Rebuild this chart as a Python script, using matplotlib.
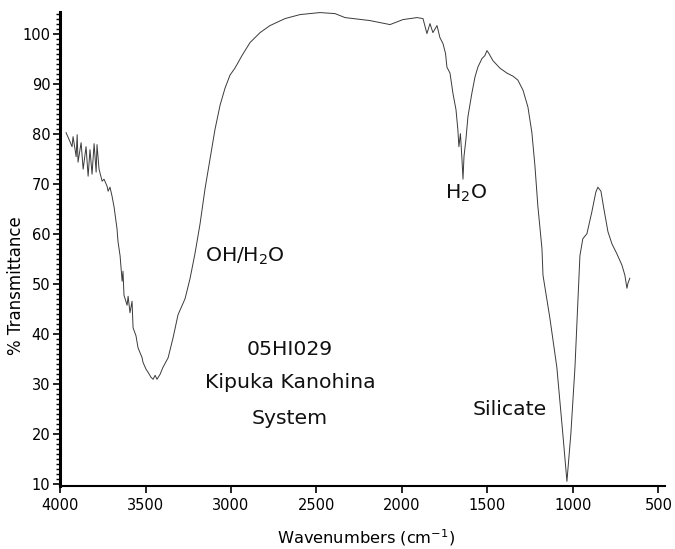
import numpy as np
import matplotlib.pyplot as plt
from matplotlib.ticker import MultipleLocator

# spectrum (wavenumber, % transmittance)
wavenumber = [3965, 3942, 3930, 3924, 3906, 3900, 3895, 3877, 3865, 3848,
              3836, 3825, 3813, 3801, 3789, 3784, 3772, 3754, 3743, 3725,
              3719, 3708, 3696, 3684, 3667, 3661, 3649, 3637, 3632, 3626,
              3608, 3602, 3591, 3579, 3573, 3556, 3544, 3532, 3520, 3515,
              3497, 3485, 3468, 3456, 3444, 3433, 3415, 3398, 3368, 3339,
              3310, 3269, 3240, 3211, 3181, 3152, 3123, 3094, 3064, 3035,
              3006, 2977, 2936, 2889, 2830, 2772, 2684, 2596, 2480, 2392,
              2363, 2333, 2187, 2070, 1994, 1912, 1877, 1854, 1836, 1819,
              1795, 1778, 1760, 1745, 1737, 1719, 1702, 1684, 1673, 1667,
              1658, 1649, 1643, 1637, 1626, 1614, 1591, 1573, 1556, 1532,
              1515, 1503, 1491, 1468, 1427, 1386, 1351, 1322, 1292, 1263,
              1240, 1222, 1205, 1181, 1175, 1135, 1094, 1059, 1035, 1012,
              988, 971, 959, 942, 918, 889, 866, 854, 836, 819,
              795, 772, 743, 713, 696, 684, 678, 667]
transmittance = [80.2, 78.4, 77.4, 79.4, 75.4, 79.8, 74.3, 78.2, 72.9, 77.4,
                 71.5, 76.8, 71.9, 78.0, 72.3, 77.8, 72.9, 70.5, 70.9, 69.5,
                 68.5, 69.3, 67.5, 65.3, 61.0, 58.4, 55.6, 50.5, 52.5, 47.7,
                 45.7, 47.5, 44.2, 46.5, 41.2, 39.6, 37.2, 36.2, 35.2, 34.3,
                 32.9, 32.3, 31.3, 30.9, 31.7, 30.9, 31.9, 33.3, 35.2, 39.2,
                 43.8, 47.0, 51.0, 56.0, 62.0, 69.0, 74.9, 80.8, 85.7, 89.1,
                 91.7, 93.1, 95.6, 98.2, 100.2, 101.6, 103.0, 103.8, 104.2, 104.0,
                 103.6, 103.2, 102.6, 101.8, 102.8, 103.2, 103.0, 100.0, 102.0, 100.2,
                 101.6, 99.2, 98.0, 96.0, 93.3, 92.1, 88.1, 84.8, 80.8, 77.4,
                 80.0, 74.9, 70.9, 75.5, 78.8, 83.4, 88.1, 91.3, 93.3, 95.0,
                 95.6, 96.6, 96.0, 94.6, 93.1, 92.1, 91.5, 90.7, 88.7, 85.3,
                 80.2, 73.5, 65.5, 57.0, 51.7, 43.2, 33.3, 20.0, 10.5, 20.0,
                 33.3, 46.5, 55.6, 59.0, 60.0, 64.4, 68.3, 69.3, 68.5, 65.0,
                 60.4, 58.0, 56.0, 53.7, 51.7, 49.1, 50.1, 51.1]

x_ticks = [4000, 3500, 3000, 2500, 2000, 1500, 1000, 500]
y_ticks = [10, 20, 30, 40, 50, 60, 70, 80, 90, 100]

fig = plt.figure(figsize=(6.75, 5.49), dpi=100)
ax = fig.add_axes([0.089, 0.115, 0.896, 0.863])

ax.plot(wavenumber, transmittance, color='#3a3a3a', lw=0.7)

ax.set_xlim(4000, 462)
ax.set_ylim(9.6, 104.3)
ax.set_xticks(x_ticks)
ax.set_yticks(y_ticks)
ax.yaxis.set_minor_locator(MultipleLocator(1))
ax.tick_params(axis='both', labelsize=10.5, direction='out', width=1.2, length=5)
ax.tick_params(axis='y', which='minor', length=3, width=1)
ax.tick_params(axis='y', pad=2)

for side in ['top', 'right']:
    ax.spines[side].set_visible(False)
ax.spines['left'].set_linewidth(2.2)
ax.spines['bottom'].set_linewidth(1.5)

ax.set_xlabel('Wavenumbers (cm$^{-1}$)', fontsize=11.7)
ax.xaxis.set_label_coords(0.506, -0.088)
ax.set_ylabel('% Transmittance', fontsize=12)
ax.yaxis.set_label_coords(-0.058, 0.422)

txt = dict(fontsize=14.7, ha='center', va='center', color='#111111')
ax.text(2916, 55.5, 'OH/H$_2$O', **txt)
ax.text(1626, 68.0, 'H$_2$O', **txt)
ax.text(2655, 36.8, '05HI029', **txt)
ax.text(2655, 30.3, 'Kipuka Kanohina', **txt)
ax.text(2655, 23.0, 'System', **txt)
ax.text(1368, 24.8, 'Silicate', **txt)

fig.savefig('out.png', dpi=100)
